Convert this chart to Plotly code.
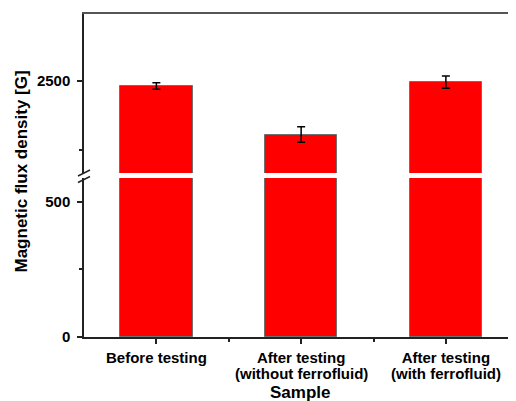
import plotly.graph_objects as go

categories = ["Before testing", "After testing", "After testing"]
subtitles = ["", "(without ferrofluid)", "(with ferrofluid)"]
x_pos = [1, 2, 3]
values = [2482, 2305, 2496]
errors = [12, 28, 22]
lower_ticks = [0, 500]
upper_ticks = [2500]

FONT = "Liberation Sans, Arial, sans-serif"
OFF = 8  # page body margin
W, H = 516 - OFF, 401 - OFF
# reference (page) coordinates of the plot area
LEFT, RIGHT, TOP, BOTTOM = 84, 516, 14, 337
ML, MR, MT, MB = LEFT - OFF, 0, TOP - OFF, H - (BOTTOM - OFF)
PW, PH = RIGHT - LEFT, BOTTOM - TOP

def py(ypx):
    return (BOTTOM - ypx) / PH

def px(xpx):
    return (xpx - LEFT) / PW

lower_dom = [0, py(178)]
upper_dom = [py(173), 1]

bar_style = dict(marker=dict(color="#FF0000", line=dict(color="#707070", width=1)), width=0.5)

fig = go.Figure()
fig.add_trace(go.Bar(x=x_pos, y=values, xaxis="x", yaxis="y", **bar_style, showlegend=False))
fig.add_trace(go.Bar(x=x_pos, y=values, xaxis="x2", yaxis="y2", **bar_style, showlegend=False,
                     error_y=dict(type="data", array=errors, color="black", thickness=1.5, width=4)))

xr = [0.5, 0.5 + PW / 144.75]
tickfont = dict(family=FONT, size=15, color="black")

annotations = [
    dict(text="<b>Magnetic flux density [G]</b>", xref="paper", yref="paper",
         x=px(21), y=py(171.5), textangle=-90, showarrow=False,
         font=dict(family=FONT, size=17, color="black"),
         xanchor="center", yanchor="middle"),
    dict(text="<b>Sample</b>", xref="paper", yref="paper",
         x=px(300), y=py(392), showarrow=False,
         font=dict(family=FONT, size=17, color="black"),
         xanchor="center", yanchor="middle"),
]
for xv, sub in zip(x_pos, subtitles):
    if sub:
        annotations.append(dict(text="<b>%s</b>" % sub, xref="x", yref="paper",
                                x=xv, y=py(373.5), showarrow=False,
                                font=tickfont, xanchor="center", yanchor="middle"))

fig.update_layout(
    width=W, height=H,
    margin=dict(l=ML, r=MR, t=MT, b=MB, autoexpand=False),
    paper_bgcolor="white", plot_bgcolor="white",
    bargap=0,
    xaxis=dict(range=xr, tickvals=x_pos, ticktext=["<b>%s</b>" % c for c in categories],
               tickfont=tickfont, showline=True, linecolor="#222", linewidth=1.5,
               ticks="outside", ticklen=5, tickcolor="#222", tickwidth=1.5,
               minor=dict(tickvals=[1.5, 2.5], ticks="outside", ticklen=3, tickcolor="#222", tickwidth=1.5),
               showgrid=False, zeroline=False, anchor="y", ticklabelstandoff=1),
    xaxis2=dict(range=xr, showline=True, linecolor="#555", linewidth=2, side="top",
                showticklabels=False, ticks="", showgrid=False, zeroline=False, anchor="y2", matches="x"),
    yaxis=dict(domain=lower_dom, range=[0, 587], tickvals=lower_ticks,
               ticktext=["<b>%d</b>" % t for t in lower_ticks], tickfont=tickfont,
               showline=True, linecolor="#222", linewidth=1.5,
               ticks="outside", ticklen=5, tickcolor="#222", tickwidth=1.5,
               minor=dict(tickvals=[250], ticks="outside", ticklen=3, tickcolor="#222", tickwidth=1.5),
               showgrid=False, zeroline=False, anchor="x", ticklabelstandoff=4),
    yaxis2=dict(domain=upper_dom, range=[2165, 2744], tickvals=upper_ticks,
                ticktext=["<b>%d</b>" % t for t in upper_ticks], tickfont=tickfont,
                showline=True, linecolor="#222", linewidth=1.5,
                ticks="outside", ticklen=5, tickcolor="#222", tickwidth=1.5,
                minor=dict(tickvals=[2250], ticks="outside", ticklen=3, tickcolor="#222", tickwidth=1.5),
                showgrid=False, zeroline=False, anchor="x2", ticklabelstandoff=4),
    annotations=annotations,
)

shapes = []
for xc in [84, 519]:
    for (y1, y2) in [(176, 170), (182.5, 176.5)]:
        shapes.append(dict(type="line", xref="paper", yref="paper",
                           x0=px(xc - 6), y0=py(y1), x1=px(xc + 6), y1=py(y2),
                           line=dict(color="#222", width=1.5)))
fig.update_layout(shapes=shapes)

fig.write_html("out.html")
